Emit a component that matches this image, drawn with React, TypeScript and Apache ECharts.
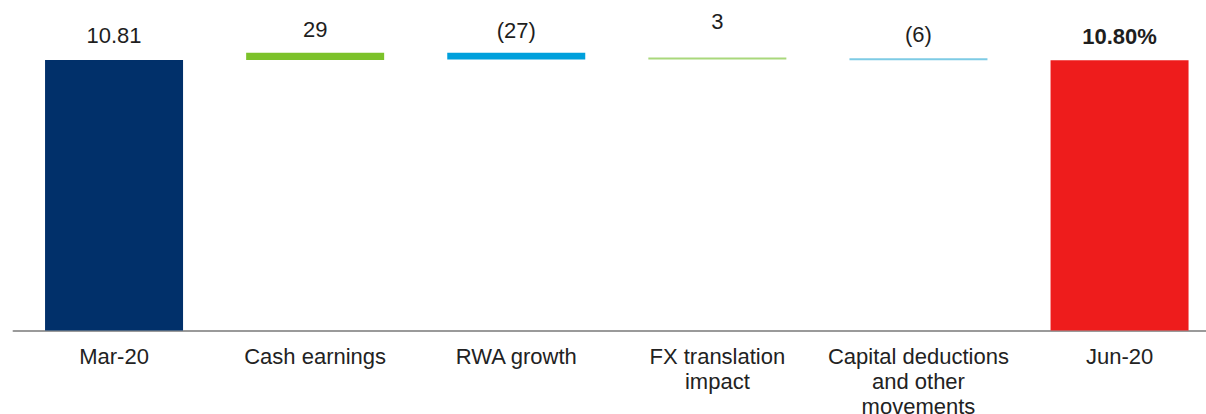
import React, { useEffect, useRef } from "react";
import * as echarts from "echarts";

const categories = [
  "Mar-20",
  "Cash earnings",
  "RWA growth",
  "FX translation\nimpact",
  "Capital deductions\nand other\nmovements",
  "Jun-20",
];
const startValue = 10.81; // %
const changesBps = [29, -27, 3, -6]; // bps
const endValue = 10.8; // %
const valueLabels = ["10.81", "29", "(27)", "3", "(6)", "10.80%"];
const barColors = ["#01306a", "#7cc22a", "#00a0dc", "#a9d87c", "#7ecbe5", "#ee1c1c"];
const labelDistances = [14, 12, 11, 25, 13, 12.5];

export default function App() {
  const ref = useRef<HTMLDivElement>(null);
  useEffect(() => {
    if (!ref.current) return;
    const chart = echarts.init(ref.current, null, { renderer: "svg" });

    const bases: number[] = [0];
    const heights: number[] = [startValue];
    let running = startValue;
    changesBps.forEach((c) => {
      const d = c / 100;
      const next = running + d;
      bases.push(Math.min(running, next));
      heights.push(Math.abs(d));
      running = next;
    });
    bases.push(0);
    heights.push(endValue);

    chart.setOption({
      animation: false,
      grid: {
        left: 13.5,
        top: 30.3,
        width: 1206.6,
        height: 300.2,
        containLabel: false,
        outerBoundsMode: "none",
      },
      xAxis: {
        type: "category",
        data: categories,
        axisLine: { lineStyle: { color: "#9a9a9a", width: 2 } },
        axisTick: { show: false },
        axisLabel: {
          interval: 0,
          margin: 13,
          fontFamily: "Liberation Sans, Arial, sans-serif",
          fontSize: 22,
          lineHeight: 25,
          color: "#222222",
        },
      },
      yAxis: { type: "value", min: 0, max: 12, show: false, splitLine: { show: false } },
      series: [
        {
          type: "bar",
          stack: "w",
          data: bases,
          barWidth: 138,
          itemStyle: { color: "transparent" },
          silent: true,
        },
        {
          type: "bar",
          stack: "w",
          barWidth: 138,
          barMinHeight: 2,
          data: heights.map((h, i) => ({
            value: h,
            itemStyle: { color: barColors[i] },
            label: {
              show: true,
              position: "top",
              distance: labelDistances[i],
              formatter: valueLabels[i],
              fontFamily: "Liberation Sans, Arial, sans-serif",
              fontSize: 22,
              lineHeight: 22,
              color: "#1e1e1e",
              fontWeight: i === categories.length - 1 ? "bold" : "normal",
            },
          })),
        },
      ],
    });
    return () => chart.dispose();
  }, []);
  return (
    <div
      ref={ref}
      style={{ position: "absolute", left: 0, top: 0, width: 1206, height: 414, background: "#fff" }}
    />
  );
}
